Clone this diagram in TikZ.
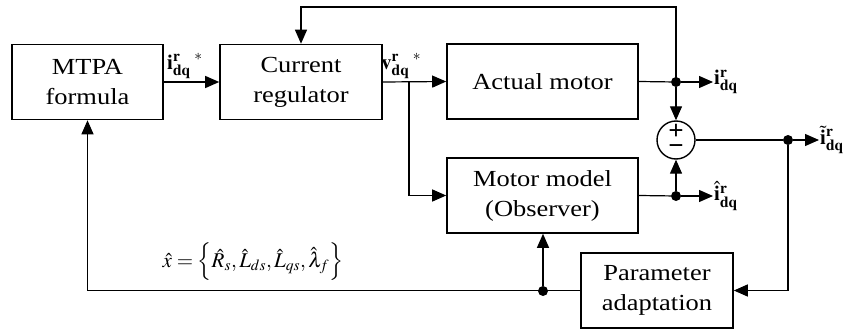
\documentclass[tikz,border=0pt]{standalone}
\usepackage{mathptmx}
\usepackage{fontspec}
\setmainfont{Liberation Serif}
\newfontfamily\wideserif[FakeStretch=1.15]{Liberation Serif}
\usetikzlibrary{arrows.meta}
\begin{document}
\begin{tikzpicture}[x=1pt,y=-1pt,
  blk/.style={draw,line width=1.6pt,minimum width=#1,minimum height=75pt,align=center,inner sep=0pt,
    font=\wideserif\fontsize{23}{30}\selectfont},
  con/.style={line width=1.2pt},
  arr/.style={con,-{Triangle[length=14pt,width=12pt]}},
  dot/.style={circle,fill,inner sep=0pt,minimum size=10pt},
  sgn/.style={inner sep=0pt,font=\bfseries\fontsize{27}{27}\selectfont},
  lbl/.style={inner sep=1pt,font=\fontsize{21}{24}\selectfont}]
\useasboundingbox (0,0) rectangle (856,331);
\node[blk=151pt] (mtpa) at (87.5,82) {MTPA\\formula};
\node[blk=162pt] (cr) at (301,82) {Current\\regulator};
\node[blk=191pt] (am) at (542.5,81.5) {Actual motor};
\node[blk=191pt] (mm) at (542.5,195.5) {Motor model\\(Observer)};
\node[blk=152pt] (pa) at (657,290.5) {Parameter\\adaptation};
\node[draw,circle,line width=1.4pt,minimum size=38pt,inner sep=0pt] (sum) at (676,140) {};
\node[sgn] (plus) at (676,131.5) {+};
\node[sgn] (minus) at (676,149.5) {\char"2212};
\coordinate (b1) at (409,82);
\coordinate (ttop) at (676,7);
\node[dot] (j1) at (676,82) {};
\node[dot] (j2) at (676,196) {};
\node[dot] (j3) at (788,140) {};
\node[dot] (j4) at (543,291) {};
\coordinate (o1) at (713,82);
\coordinate (o2) at (713,196);
\coordinate (o3) at (819,140);
\draw[arr] (mtpa.east) -- (cr.west);
\draw[arr] (cr.east) -- (am.west);
\draw[arr] (b1) |- (mm.west);
\draw[con] (am.east) -- (j1);
\draw[arr] (j1) -- (o1);
\draw[arr] (j1.center) -- (ttop) -| (cr.north);
\draw[arr] (j1) -- (sum.north);
\draw[con] (mm.east) -- (j2);
\draw[arr] (j2) -- (o2);
\draw[arr] (j2) -- (sum.south);
\draw[con] (sum.east) -- (j3);
\draw[arr] (j3) -- (o3);
\draw[arr] (j3) |- (pa.east);
\draw[arr] (pa.west) -| (mtpa.south);
\draw[arr] (j4) -- (j4 |- mm.south);
\node[lbl,anchor=south west] (l1) at (166,80) {${\mathbf{i}^{\mathbf{r}}_{\mathbf{dq}}}^{\;*}$};
\node[lbl,anchor=south west] (l2) at (380,80) {${\mathbf{v}^{\mathbf{r}}_{\mathbf{dq}}}^{\;*}$};
\node[lbl,anchor=west] (l3) at (o1) {$\mathbf{i}^{\mathbf{r}}_{\mathbf{dq}}$};
\node[lbl,anchor=west] (l4) at (o2) {$\hat{\mathbf{i}}^{\mathbf{r}}_{\mathbf{dq}}$};
\node[lbl,anchor=west] (l5) at (o3) {$\tilde{\mathbf{i}}^{\mathbf{r}}_{\mathbf{dq}}$};
\node[lbl] (fx) at (253,262) {$\hat{x}=\left\{\hat{R}_s,\hat{L}_{ds},\hat{L}_{qs},\hat{\lambda}_f\right\}$};
\end{tikzpicture}
\end{document}
